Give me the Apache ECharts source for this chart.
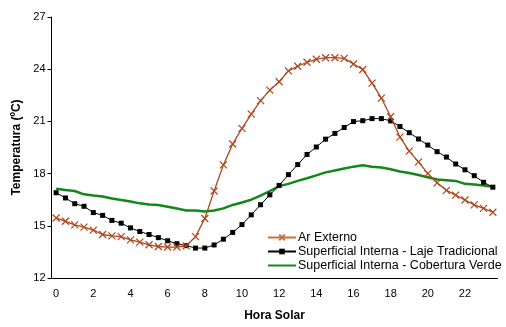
<!DOCTYPE html>
<html><head><meta charset="utf-8">
<script src="https://cdn.jsdelivr.net/npm/echarts@6/dist/echarts.min.js"></script>
<style>html,body{margin:0;padding:0;background:#fff}#c{width:506px;height:327px}</style>
</head><body><div id="c"></div>
<script>
const hours = ["0","0.5","1","1.5","2","2.5","3","3.5","4","4.5","5","5.5","6","6.5","7","7.5","8","8.5","9","9.5","10","10.5","11","11.5","12","12.5","13","13.5","14","14.5","15","15.5","16","16.5","17","17.5","18","18.5","19","19.5","20","20.5","21","21.5","22","22.5","23","23.5"];
const arExterno = [15.45,15.26,15.05,14.92,14.75,14.5,14.42,14.38,14.19,14.06,13.91,13.81,13.78,13.78,13.85,14.38,15.42,17.0,18.5,19.7,20.6,21.42,22.19,22.8,23.28,23.9,24.17,24.4,24.57,24.66,24.66,24.62,24.3,23.98,23.2,22.34,21.27,20.1,19.29,18.67,18.0,17.47,17.04,16.76,16.48,16.2,16.0,15.78];
const lajeTradicional = [16.9,16.6,16.27,16.12,15.76,15.6,15.31,15.15,14.88,14.67,14.5,14.32,14.14,13.97,13.86,13.72,13.72,13.9,14.23,14.62,15.07,15.63,16.21,16.78,17.32,17.94,18.52,19.1,19.53,19.98,20.31,20.65,20.99,21.04,21.16,21.16,21.03,20.71,20.35,19.99,19.64,19.26,18.95,18.55,18.22,17.88,17.5,17.22];
const coberturaVerde = [17.13,17.06,17.0,16.81,16.74,16.68,16.57,16.48,16.4,16.29,16.23,16.2,16.1,15.99,15.88,15.88,15.82,15.88,16.0,16.2,16.34,16.5,16.74,17.0,17.28,17.41,17.58,17.73,17.9,18.07,18.18,18.29,18.4,18.48,18.4,18.35,18.25,18.12,18.03,17.92,17.79,17.66,17.62,17.58,17.41,17.38,17.32,17.24];
const seriesNames = ["Ar Externo","Superficial Interna - Laje Tradicional","Superficial Interna - Cobertura Verde"];
const yTicks = {min:12, max:27, interval:3};

const font = "'Liberation Sans', Arial, sans-serif";
const chart = echarts.init(document.getElementById('c'), null, {renderer:'canvas'});
chart.setOption({
  animation:false,
  grid:{left:51.5, right:8.5, top:17, bottom:43, containLabel:false},
  legend:{
    orient:'vertical', left:267, top:231, itemWidth:28, itemHeight:7, itemGap:1,
    padding:0,
    textStyle:{fontFamily:font, fontSize:12.5, color:'#000', padding:[0,0,0,-3]},
    data:[
      {name:seriesNames[0], itemStyle:{borderColor:'#C8703F'}, lineStyle:{color:'#C8703F'}},
      {name:seriesNames[1]},
      {name:seriesNames[2], itemStyle:{color:'rgba(0,0,0,0)', borderWidth:0, opacity:0}}
    ]
  },
  xAxis:{
    type:'category', data:hours, boundaryGap:true,
    name:'Hora Solar', nameLocation:'middle', nameGap:32,
    nameTextStyle:{fontFamily:font, fontSize:12, fontWeight:'bold', color:'#000'},
    axisLine:{lineStyle:{color:'#000', width:1}},
    axisTick:{interval:0, length:3, lineStyle:{color:'#000'}},
    axisLabel:{interval:3, margin:10, fontFamily:font, fontSize:11, color:'#000'},
    splitLine:{show:false}
  },
  yAxis:{
    type:'value', min:yTicks.min, max:yTicks.max, interval:yTicks.interval,
    name:'Temperatura (ºC)', nameLocation:'middle', nameGap:28, nameRotate:90,
    nameTextStyle:{fontFamily:font, fontSize:12, fontWeight:'bold', color:'#000'},
    axisLine:{show:true, lineStyle:{color:'#000', width:1}},
    axisTick:{show:true, length:4, lineStyle:{color:'#000'}},
    axisLabel:{margin:6, fontFamily:font, fontSize:11, color:'#000'},
    splitLine:{show:false}
  },
  series:[
    {name:seriesNames[0], type:'line', data:arExterno,
     symbol:'path://M0,0L10,10M10,0L0,10', symbolSize:7, showAllSymbol:true,
     lineStyle:{color:'#B0461C', width:1.3},
     itemStyle:{color:'rgba(0,0,0,0)', borderColor:'#B0461C', borderWidth:1.2},
     z:3},
    {name:seriesNames[1], type:'line', data:lajeTradicional,
     symbol:'rect', symbolSize:5, showAllSymbol:true,
     lineStyle:{color:'#000', width:1},
     itemStyle:{color:'#000'}, z:2},
    {name:seriesNames[2], type:'line', data:coberturaVerde,
     showSymbol:false, symbol:'none',
     lineStyle:{color:'#11891A', width:2.5},
     itemStyle:{color:'#11891A'}, z:1}
  ]
});
</script></body></html>
